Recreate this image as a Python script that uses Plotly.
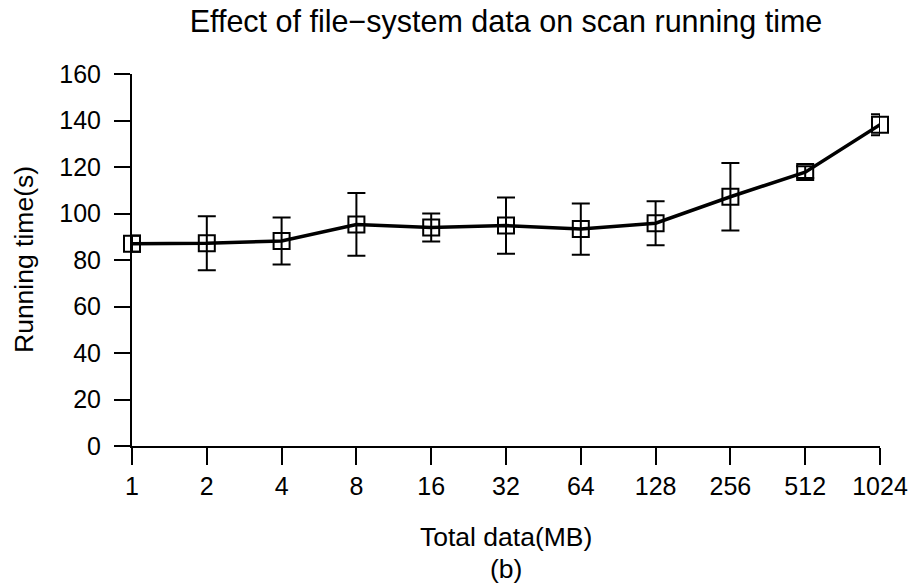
import plotly.graph_objects as go

# Total data sizes (MB) shown as evenly spaced categories
sizes_mb = ["1", "2", "4", "8", "16", "32", "64", "128", "256", "512", "1024"]
# Mean scan running time (s) and its error half-width
running_time = [87.0, 87.2, 88.2, 95.3, 94.0, 94.8, 93.3, 95.8, 107.2, 117.8, 138.2]
running_err = [3.5, 11.6, 10.1, 13.5, 6.0, 12.1, 11.0, 9.5, 14.5, 2.5, 4.5]
y_ticks = [0, 20, 40, 60, 80, 100, 120, 140, 160]

FONT = "Liberation Sans, Arial, Helvetica, sans-serif"
TICK_SIZE = 25
LABEL_SIZE = 26.5
TITLE_SIZE = 30.5
positions = list(range(len(sizes_mb)))

fig = go.Figure()
fig.add_trace(go.Scatter(
    x=positions,
    y=running_time,
    mode="lines+markers",
    line=dict(color="black", width=3.5),
    marker=dict(symbol="square-open", size=16, color="black",
                line=dict(color="black", width=2)),
    error_y=dict(type="data", array=running_err, visible=True,
                 color="black", thickness=2, width=9),
    cliponaxis=False,
    showlegend=False,
))

fig.update_layout(
    width=908,
    height=587,
    margin=dict(l=132, r=28, t=74, b=141),
    paper_bgcolor="white",
    plot_bgcolor="white",
    font=dict(family=FONT, size=TICK_SIZE, color="black"),
    title=dict(
        text="Effect of file\u2212system data on scan running time",
        x=0.5, xref="paper", xanchor="center",
        y=1 - 21 / 587, yref="container", yanchor="middle",
        font=dict(family=FONT, size=TITLE_SIZE, color="black"),
    ),
    xaxis=dict(
        range=[0, len(sizes_mb) - 1],
        tickmode="array",
        tickvals=positions,
        ticktext=sizes_mb,
        automargin=False,
        showline=True, linecolor="black", linewidth=2,
        ticks="outside", ticklen=17, tickwidth=2, tickcolor="black",
        ticklabelstandoff=0,
        showgrid=False, zeroline=False,
        tickfont=dict(family=FONT, size=TICK_SIZE, color="black"),
    ),
    yaxis=dict(
        range=[0, 160],
        tickmode="array",
        tickvals=y_ticks,
        automargin=False,
        showline=True, linecolor="black", linewidth=2,
        ticks="outside", ticklen=16, tickwidth=2, tickcolor="black",
        ticklabelstandoff=8,
        showgrid=False, zeroline=False,
        tickfont=dict(family=FONT, size=TICK_SIZE, color="black"),
    ),
    annotations=[
        dict(text="Total data(MB)", xref="paper", yref="paper",
             x=0.5, y=-91 / 372, xanchor="center", yanchor="middle",
             showarrow=False, font=dict(family=FONT, size=LABEL_SIZE, color="black")),
        dict(text="(b)", xref="paper", yref="paper",
             x=0.5, y=-123 / 372, xanchor="center", yanchor="middle",
             showarrow=False, font=dict(family=FONT, size=LABEL_SIZE, color="black")),
        dict(text="Running time(s)", xref="paper", yref="paper",
             x=-108 / 748, y=0.5, xanchor="center", yanchor="middle",
             textangle=-90, showarrow=False,
             font=dict(family=FONT, size=LABEL_SIZE, color="black")),
    ],
)

fig.write_html("out.html")
